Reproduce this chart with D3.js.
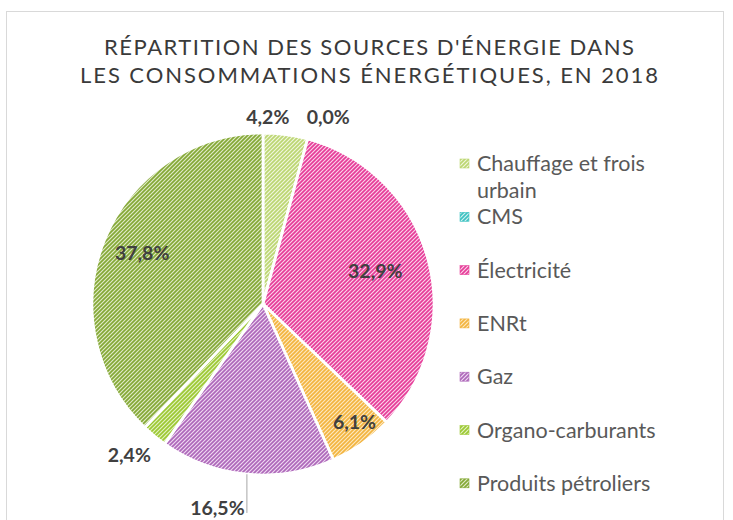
<!DOCTYPE html>
<html>
<head>
<meta charset="utf-8">
<script src="https://cdn.jsdelivr.net/npm/d3@7"></script>
<style>
  html, body { margin: 0; padding: 0; background: #ffffff; }
  svg { display: block; }
</style>
</head>
<body>
<svg id="chart" width="733" height="520"></svg>
<script>
// Energy sources and their share (%) of consumption, 2018
const categories = [
  "Chauffage et frois urbain",
  "CMS",
  "Électricité",
  "ENRt",
  "Gaz",
  "Organo-carburants",
  "Produits pétroliers"
];
const shares = [4.2, 0.0, 32.9, 6.1, 16.5, 2.4, 37.8];
const shareLabels = ["4,2%", "0,0%", "32,9%", "6,1%", "16,5%", "2,4%", "37,8%"];
const titleLines = [
  "RÉPARTITION DES SOURCES D'ÉNERGIE DANS",
  "LES CONSOMMATIONS ÉNERGÉTIQUES, EN 2018"
];

// Hatch colours: stripe colour and pale background per source
const stripeColors = ["#bcd672", "#3cc2c2", "#e63c98", "#f3b43f", "#ae68ba", "#9cc832", "#84a836"];
const paleColors   = ["#f1f7de", "#d2f0f0", "#fbd3ea", "#fde9c0", "#efdaf2", "#e4f2c4", "#e1ebc8"];

// Label placement around the pie: radius factor and angular nudge (degrees)
const labelPlacement = [
  { k: 1.094, da: -6.1 },
  { k: 1.158, da: 4.1 },
  { k: 0.684, da: -0.7 },
  { k: 0.875, da: -2.4 },
  { k: 1.222, da: 7.2, leader: true },
  { k: 1.181, da: 2.0 },
  { k: 0.766, da: 0.8 }
];

const svg = d3.select("#chart");
const cx = 263, cy = 304, R = 171;

// Chart frame
svg.append("rect")
  .attr("x", 6.5).attr("y", 11.5)
  .attr("width", 717).attr("height", 530)
  .attr("fill", "#ffffff")
  .attr("stroke", "#d9d9d9").attr("stroke-width", 1);

// Hatch patterns (upward diagonal)
const defs = svg.append("defs");
categories.forEach((c, i) => {
  const p = defs.append("pattern")
    .attr("id", "hatch" + i)
    .attr("patternUnits", "userSpaceOnUse")
    .attr("width", 4).attr("height", 4);
  p.append("rect").attr("width", 4).attr("height", 4).attr("fill", paleColors[i]);
  p.append("path")
    .attr("d", "M-1,1 l2,-2 M0,4 l4,-4 M3,5 l2,-2")
    .attr("stroke", stripeColors[i])
    .attr("stroke-width", 1.7)
    .attr("stroke-linecap", "square");
});

// Title
const title = svg.append("g").attr("font-family", "Lato, 'Open Sans', sans-serif")
  .attr("font-size", 22).attr("fill", "#3a3a3a").attr("text-anchor", "middle");
const titleWidths = [530, 578];
const titleBaselines = [55, 83];
titleLines.forEach((t, i) => {
  title.append("text")
    .attr("x", 369).attr("y", titleBaselines[i])
    .attr("textLength", titleWidths[i])
    .attr("lengthAdjust", "spacing")
    .text(t);
});

// Pie
const data = categories.map((c, i) => ({ name: c, value: shares[i], label: shareLabels[i], idx: i }));
const pie = d3.pie().sort(null).value(d => d.value);
const arcs = pie(data);
const arc = d3.arc().innerRadius(0).outerRadius(R);

const g = svg.append("g").attr("transform", `translate(${cx},${cy})`);
g.selectAll("path.slice")
  .data(arcs)
  .join("path")
  .attr("class", "slice")
  .attr("d", arc)
  .attr("fill", d => `url(#hatch${d.data.idx})`)
  .attr("stroke", "#ffffff")
  .attr("stroke-width", 2.8)
  .attr("stroke-linejoin", "round");

// Data labels
const labels = svg.append("g")
  .attr("font-family", "Lato, 'Open Sans', sans-serif")
  .attr("font-weight", 700)
  .attr("font-size", 19.5)
  .attr("fill", "#404040")
  .attr("text-anchor", "middle");

arcs.forEach((a, i) => {
  const pl = labelPlacement[i];
  const mid = (a.startAngle + a.endAngle) / 2;
  const ang = mid + pl.da * Math.PI / 180;
  const x = cx + Math.sin(ang) * R * pl.k;
  const y = cy - Math.cos(ang) * R * pl.k;
  labels.append("text")
    .attr("x", x).attr("y", y)
    .attr("dy", "0.36em")
    .text(a.data.label);
  if (pl.leader) {
    const ex = cx + Math.sin(mid) * R;
    const ey = cy - Math.cos(mid) * R;
    svg.append("line")
      .attr("x1", ex).attr("y1", ey)
      .attr("x2", ex).attr("y2", y + 5)
      .attr("stroke", "#a6a6a6").attr("stroke-width", 1);
  }
});

// Legend
const legend = svg.append("g")
  .attr("font-family", "Lato, 'Open Sans', sans-serif")
  .attr("font-size", 21.5)
  .attr("fill", "#595959");
const legendX = 460, legendTop = 171, legendStep = 53.3;
categories.forEach((c, i) => {
  const by = legendTop + i * legendStep;
  legend.append("rect")
    .attr("x", legendX).attr("y", by - 12)
    .attr("width", 9).attr("height", 9)
    .attr("fill", `url(#hatch${i})`)
    .attr("stroke", stripeColors[i]).attr("stroke-width", 0.6);
  const t = legend.append("text").attr("x", legendX + 17).attr("y", by);
  if (i === 0) {
    t.append("tspan").attr("x", legendX + 17).attr("y", by).text("Chauffage et frois");
    t.append("tspan").attr("x", legendX + 17).attr("y", by + 27).text("urbain");
  } else {
    t.text(c);
  }
});
</script>
</body>
</html>
